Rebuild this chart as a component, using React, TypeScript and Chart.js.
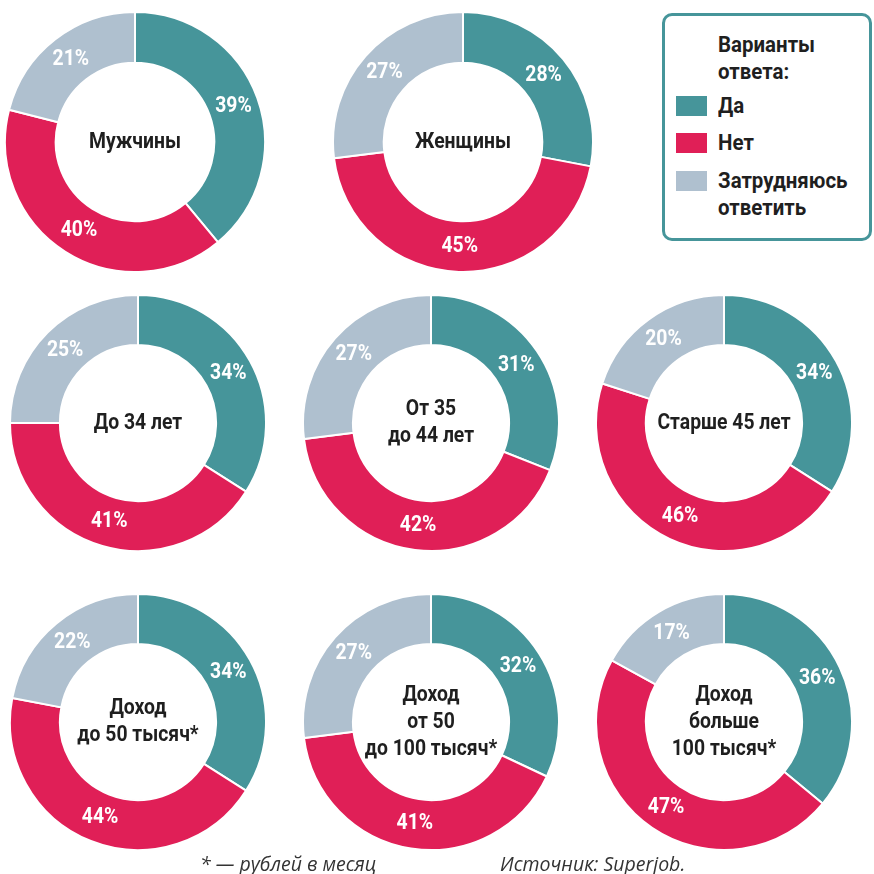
import React, { useEffect, useRef } from 'react';
import { Chart, registerables } from 'chart.js';

Chart.register(...registerables);

const answers = ['Да', 'Нет', 'Затрудняюсь ответить'];
const groupTitles = [
  'Мужчины',
  'Женщины',
  'До 34 лет',
  'От 35\nдо 44 лет',
  'Старше 45 лет',
  'Доход\nдо 50 тысяч*',
  'Доход\nот 50\nдо 100 тысяч*',
  'Доход\nбольше\n100 тысяч*',
];
const yesValues = [39, 28, 34, 31, 34, 34, 32, 36];
const noValues = [40, 45, 41, 42, 46, 44, 41, 47];
const unsureValues = [21, 27, 25, 27, 20, 22, 27, 17];

const colors = ['#46959A', '#E01F57', '#AFC0CF'];
const FONT = 'Roboto, "Noto Sans", sans-serif';
const TEXT = '#1f1f1f';
const SQUEEZE = 0.88;

const layout = [
  { cx: 135, cy: 142, r: 130 },
  { cx: 463, cy: 142, r: 130 },
  { cx: 138, cy: 423, r: 128 },
  { cx: 431, cy: 423, r: 128 },
  { cx: 724, cy: 423, r: 128 },
  { cx: 138, cy: 722, r: 128 },
  { cx: 431, cy: 722, r: 128 },
  { cx: 724, cy: 722, r: 128 },
];

function squeezedText(ctx: CanvasRenderingContext2D, s: string, x: number, y: number) {
  ctx.save();
  ctx.translate(x, y);
  ctx.scale(SQUEEZE, 1);
  ctx.fillText(s, 0, 0);
  ctx.restore();
}

function makePlugin(title: string) {
  return {
    id: 'donutText',
    afterDatasetsDraw(chart: any) {
      const ctx = chart.ctx as CanvasRenderingContext2D;
      const meta = chart.getDatasetMeta(0);
      const values = chart.data.datasets[0].data as number[];
      ctx.save();
      ctx.fillStyle = '#ffffff';
      ctx.font = `bold 22px ${FONT}`;
      ctx.textAlign = 'center';
      ctx.textBaseline = 'middle';
      meta.data.forEach((arc: any, i: number) => {
        const p = arc.tooltipPosition(false);
        squeezedText(ctx, `${values[i]}%`, p.x, p.y);
      });
      const first = meta.data[0] as any;
      const cx = first.x;
      const cy = first.y;
      const lines = title.split('\n');
      const lh = 27;
      ctx.fillStyle = TEXT;
      ctx.font = `bold 22px ${FONT}`;
      lines.forEach((ln, k) => {
        squeezedText(ctx, ln, cx, cy + (k - (lines.length - 1) / 2) * lh);
      });
      ctx.restore();
    },
  };
}

function Donut({ index }: { index: number }) {
  const ref = useRef<HTMLCanvasElement>(null);
  const { cx, cy, r } = layout[index];
  const size = 2 * r + 2;
  useEffect(() => {
    const chart = new Chart(ref.current!, {
      type: 'doughnut',
      data: {
        labels: answers,
        datasets: [
          {
            data: [yesValues[index], noValues[index], unsureValues[index]],
            backgroundColor: colors,
            borderColor: '#ffffff',
            borderWidth: 2,
          },
        ],
      },
      options: {
        responsive: false,
        animation: false,
        cutout: '61%',
        layout: { padding: 0 },
        plugins: { legend: { display: false }, tooltip: { enabled: false } },
      },
      plugins: [makePlugin(groupTitles[index])],
    } as any);
    return () => chart.destroy();
  }, [index]);
  return (
    <canvas
      ref={ref}
      width={size}
      height={size}
      style={{ position: 'absolute', left: cx - size / 2, top: cy - size / 2, width: size, height: size }}
    />
  );
}

export default function App() {
  const legendText: React.CSSProperties = {
    position: 'absolute',
    left: 53,
    fontFamily: FONT,
    fontWeight: 'bold',
    fontSize: 22,
    lineHeight: '27px',
    color: TEXT,
    transform: 'scaleX(0.93)',
    transformOrigin: 'left top',
    whiteSpace: 'nowrap',
  };
  const sw = (top: number, color: string): React.CSSProperties => ({
    position: 'absolute',
    left: 11,
    top,
    width: 31,
    height: 20,
    background: color,
  });
  const foot: React.CSSProperties = {
    position: 'absolute',
    top: 850,
    fontFamily: '"Open Sans", "Noto Sans", sans-serif',
    fontStyle: 'italic',
    fontSize: 19.5,
    color: '#333',
    whiteSpace: 'nowrap',
  };
  return (
    <div style={{ position: 'fixed', left: 0, top: 0, width: 874, height: 874, background: '#fff', overflow: 'hidden' }}>
      {layout.map((_, i) => (
        <Donut key={i} index={i} />
      ))}
      <div
        style={{
          position: 'absolute',
          left: 662,
          top: 13,
          width: 204,
          height: 222,
          border: '3px solid #46959A',
          borderRadius: 10,
          boxSizing: 'content-box',
        }}
      >
        <div style={{ ...legendText, top: 15 }}>Варианты<br />ответа:</div>
        <div style={sw(80, colors[0])} />
        <div style={{ ...legendText, top: 76 }}>{answers[0]}</div>
        <div style={sw(117, colors[1])} />
        <div style={{ ...legendText, top: 113 }}>{answers[1]}</div>
        <div style={sw(155, colors[2])} />
        <div style={{ ...legendText, top: 151 }}>Затрудняюсь<br />ответить</div>
      </div>
      <div style={{ ...foot, left: 200 }}>* — рублей в месяц</div>
      <div style={{ ...foot, left: 500 }}>Источник: Superjob.</div>
    </div>
  );
}
